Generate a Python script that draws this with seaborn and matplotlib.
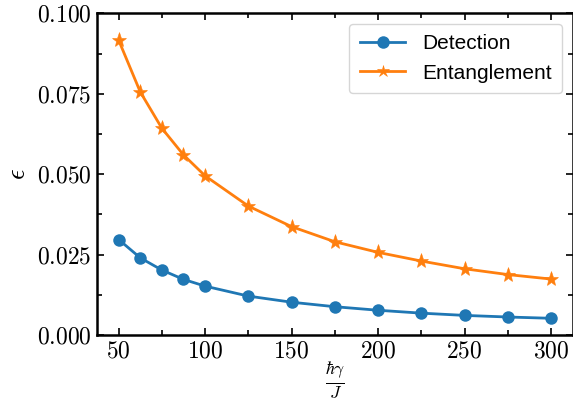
import matplotlib
matplotlib.use("Agg")
import matplotlib.pyplot as plt
import seaborn as sns
import pandas as pd
from matplotlib.ticker import MultipleLocator, FuncFormatter

x_vals = [50, 62.5, 75, 87.5, 100, 125, 150, 175, 200, 225, 250, 275, 300]
detection = [0.0297, 0.0240, 0.0202, 0.0173, 0.0152, 0.0121, 0.0102, 0.0088,
             0.0077, 0.0068, 0.0061, 0.0056, 0.0052]
entanglement = [0.0917, 0.0756, 0.0643, 0.0560, 0.0495, 0.0401, 0.0337, 0.0290,
                0.0257, 0.0230, 0.0206, 0.0188, 0.0174]
series_names = ["Detection", "Entanglement"]

df = pd.DataFrame({
    "x": x_vals * 2,
    "y": detection + entanglement,
    "series": [series_names[0]] * len(x_vals) + [series_names[1]] * len(x_vals),
})

plt.rcParams["mathtext.fontset"] = "cm"
plt.rcParams["font.family"] = ["serif"]
plt.rcParams["font.serif"] = ["cmr10", "DejaVu Serif"]
plt.rcParams["axes.formatter.use_mathtext"] = True

fig = plt.figure(figsize=(5.73, 4.03), dpi=100)
ax = fig.add_axes([0.1693, 0.1687, 0.830, 0.798])

sns.lineplot(data=df, x="x", y="y", hue="series", style="series",
             markers={"Detection": "o", "Entanglement": "*"}, dashes=False,
             palette=["#1f77b4", "#ff7f0e"], linewidth=2.0,
             markersize=9, markeredgewidth=0, ax=ax)
for ln in ax.get_lines():
    if ln.get_marker() == "*":
        ln.set_markersize(11)
        ln.set_markeredgewidth(0.4)
        ln.set_markeredgecolor(ln.get_color())

ax.set_xlim(37.5, 312.5)
ax.set_ylim(0, 0.1)
ax.xaxis.set_major_locator(MultipleLocator(50))
ax.xaxis.set_minor_locator(MultipleLocator(25))
ax.yaxis.set_major_locator(MultipleLocator(0.025))
ax.yaxis.set_minor_locator(MultipleLocator(0.0125))
ax.xaxis.set_major_formatter(FuncFormatter(lambda v, p: r"$%d$" % v))
ax.yaxis.set_major_formatter(FuncFormatter(lambda v, p: r"$%.3f$" % v))
ax.tick_params(which="both", direction="in", top=True, right=True,
               labelsize=17, width=1.2)
ax.tick_params(which="major", length=5, pad=4)
ax.tick_params(which="minor", length=3.5)
for s in ax.spines.values():
    s.set_linewidth(1.8)

ax.set_xlabel(r"$\frac{\hbar\gamma}{J}$", fontsize=18, labelpad=-1)
ax.set_ylabel(r"$\epsilon$", fontsize=19, labelpad=5)

handles, labels = ax.get_legend_handles_labels()
for h in handles:
    if h.get_marker() == "*":
        h.set_markersize(9)
ax.legend(handles, labels, loc="upper right",
          prop={"family": ["Liberation Sans"], "size": 15},
          framealpha=0.8, handlelength=2.2, borderpad=0.5)

fig.savefig("out.png", dpi=100)
